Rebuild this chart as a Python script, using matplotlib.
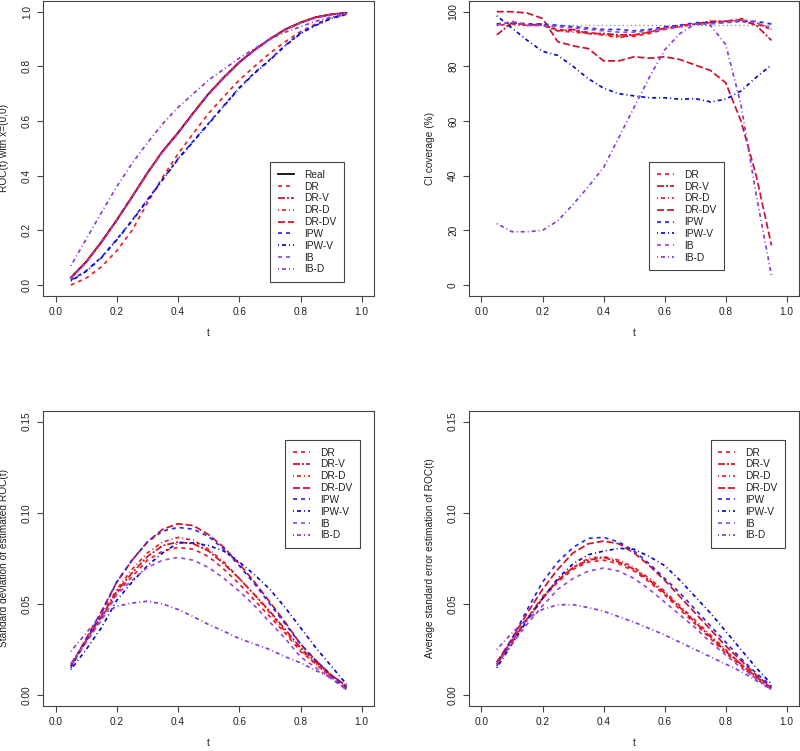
import matplotlib
matplotlib.use("Agg")
import matplotlib.pyplot as plt

plt.rcParams["font.family"] = ["Liberation Sans", "DejaVu Sans"]

# ── Data ─────────────────────────────────────────────────────────────────────
t = [0.05, 0.10, 0.15, 0.20, 0.25, 0.30, 0.35, 0.40, 0.45, 0.50,
     0.55, 0.60, 0.65, 0.70, 0.75, 0.80, 0.85, 0.90, 0.95]

# panel 1: ROC(t) with x=(0,0)
roc_real  = [0.027, 0.085, 0.158, 0.238, 0.323, 0.410, 0.490, 0.557, 0.630, 0.700,
             0.760, 0.815, 0.860, 0.900, 0.935, 0.960, 0.980, 0.990, 0.996]
roc_dr    = [0.000, 0.025, 0.067, 0.125, 0.200, 0.300, 0.395, 0.480, 0.555, 0.628,
             0.690, 0.750, 0.800, 0.848, 0.890, 0.927, 0.955, 0.978, 0.990]
roc_dr_v  = [0.025, 0.083, 0.157, 0.237, 0.322, 0.409, 0.489, 0.556, 0.629, 0.699,
             0.759, 0.814, 0.860, 0.900, 0.935, 0.960, 0.979, 0.990, 0.995]
roc_dr_d  = [0.028, 0.086, 0.159, 0.239, 0.324, 0.411, 0.491, 0.558, 0.631, 0.701,
             0.761, 0.816, 0.861, 0.901, 0.936, 0.961, 0.980, 0.991, 0.996]
roc_dr_dv = [0.026, 0.084, 0.158, 0.238, 0.323, 0.410, 0.490, 0.557, 0.630, 0.700,
             0.760, 0.815, 0.860, 0.900, 0.935, 0.960, 0.980, 0.990, 0.996]
roc_ipw   = [0.018, 0.052, 0.102, 0.167, 0.237, 0.312, 0.387, 0.462, 0.527, 0.592,
             0.657, 0.722, 0.777, 0.825, 0.877, 0.922, 0.952, 0.976, 0.990]
roc_ipw_v = [0.015, 0.050, 0.100, 0.165, 0.235, 0.310, 0.385, 0.460, 0.525, 0.590,
             0.655, 0.720, 0.775, 0.823, 0.875, 0.920, 0.950, 0.975, 0.990]
roc_ib    = [0.024, 0.082, 0.155, 0.235, 0.320, 0.407, 0.487, 0.554, 0.627, 0.697,
             0.757, 0.812, 0.858, 0.898, 0.933, 0.958, 0.977, 0.988, 0.994]
roc_ib_d  = [0.070, 0.168, 0.265, 0.360, 0.445, 0.520, 0.590, 0.650, 0.700, 0.750,
             0.790, 0.830, 0.865, 0.900, 0.925, 0.945, 0.965, 0.980, 0.990]

# panel 2: CI coverage (%)
cov_nominal = 95
cov_dr    = [95.5, 96.0, 95.5, 95.0, 93.5, 93.0, 92.5, 91.5, 91.0, 91.0,
             92.0, 93.5, 94.5, 95.5, 96.0, 96.5, 96.5, 95.5, 93.5]
cov_dr_v  = [91.5, 96.0, 95.0, 95.5, 93.0, 93.5, 92.0, 92.0, 91.5, 91.5,
             92.5, 94.0, 95.0, 95.5, 96.5, 96.5, 97.0, 95.0, 89.5]
cov_dr_d  = [95.0, 95.5, 95.0, 95.0, 93.0, 92.5, 92.0, 91.5, 90.5, 91.5,
             92.5, 94.0, 94.5, 95.5, 96.0, 96.5, 97.5, 96.0, 93.5]
cov_dr_dv = [100.0, 100.0, 99.5, 97.5, 89.0, 87.5, 86.5, 82.0, 82.0, 83.5,
             83.0, 83.5, 82.5, 80.5, 78.5, 74.0, 60.0, 40.0, 14.5]
cov_ipw   = [95.5, 96.0, 95.5, 95.5, 95.0, 94.5, 94.0, 93.5, 93.5, 93.0,
             93.5, 94.5, 95.0, 96.0, 96.0, 96.0, 96.5, 96.5, 95.5]
cov_ipw_v = [98.5, 94.0, 89.5, 85.5, 84.0, 80.0, 75.5, 72.0, 70.0, 69.2,
             68.5, 68.5, 68.0, 68.2, 67.0, 68.0, 71.0, 76.0, 80.5]
cov_ib    = [95.0, 96.5, 95.0, 95.0, 94.5, 94.0, 93.5, 93.0, 92.5, 92.5,
             93.0, 94.0, 94.5, 95.5, 95.5, 96.0, 97.0, 96.0, 94.0]
cov_ib_d  = [22.5, 19.5, 19.5, 20.0, 23.5, 29.5, 36.0, 43.0, 54.0, 65.0,
             76.0, 86.0, 92.0, 95.5, 95.0, 88.0, 66.0, 33.0, 3.5]

# panel 3: standard deviation of estimated ROC(t)
sd_dr     = [.016, .029, .042, .056, .065, .074, .079, .081, .080, .076,
             .069, .061, .052, .043, .034, .024, .017, .010, .004]
sd_dr_v   = [.017, .030, .043, .057, .067, .076, .082, .084, .083, .079,
             .072, .064, .055, .046, .036, .026, .018, .011, .005]
sd_dr_d   = [.016, .030, .044, .058, .069, .078, .084, .0865, .085, .080,
             .073, .064, .055, .045, .035, .025, .017, .010, .004]
sd_dr_dv  = [.016, .031, .046, .062, .074, .084, .091, .094, .093, .088,
             .081, .072, .062, .051, .040, .028, .019, .011, .005]
sd_ipw    = [.015, .030, .045, .062, .074, .084, .090, .092, .091, .087,
             .080, .071, .061, .050, .039, .028, .019, .011, .004]
sd_ipw_v  = [.014, .025, .037, .052, .062, .071, .078, .0835, .0835, .082,
             .079, .073, .066, .058, .048, .037, .026, .016, .006]
sd_ib     = [.017, .029, .041, .055, .063, .070, .074, .0755, .074, .070,
             .064, .057, .049, .040, .031, .021, .015, .009, .003]
sd_ib_d   = [.024, .034, .044, .0487, .0505, .0515, .050, .047, .043, .0387,
             .035, .031, .028, .025, .021, .0177, .0135, .0095, .003]

# panel 4: average standard error estimation of ROC(t)
se_dr     = [.018, .030, .042, .053, .062, .069, .073, .074, .072, .068,
             .062, .055, .047, .039, .031, .023, .016, .009, .003]
se_dr_v   = [.017, .029, .042, .053, .063, .070, .074, .0755, .073, .069,
             .063, .056, .048, .040, .032, .024, .017, .010, .004]
se_dr_d   = [.017, .030, .042, .054, .063, .070, .075, .076, .074, .070,
             .064, .057, .049, .041, .033, .025, .017, .010, .004]
se_dr_dv  = [.018, .031, .045, .058, .069, .078, .083, .0845, .083, .078,
             .071, .063, .054, .045, .036, .027, .019, .011, .004]
se_ipw    = [.016, .031, .047, .062, .073, .081, .086, .0865, .084, .079,
             .072, .064, .056, .047, .038, .029, .020, .012, .005]
se_ipw_v  = [.015, .028, .041, .053, .064, .072, .077, .079, .0805, .080,
             .076, .071, .063, .054, .045, .035, .025, .015, .006]
se_ib     = [.017, .028, .039, .049, .058, .064, .068, .0697, .068, .064,
             .058, .051, .044, .037, .029, .022, .015, .009, .003]
se_ib_d   = [.025, .034, .042, .047, .0495, .0496, .048, .046, .043, .040,
             .0365, .033, .029, .025, .021, .017, .013, .008, .003]

# ── Styles (R-like lty patterns, given in pixels) ───────────────────────────
LW = 1.25
RED, RED2, BLUE, BLUE2, PURP, PURP2 = ("#e8202a", "#d0102a", "#2a2ae8",
                                      "#0a0acc", "#9a48e0", "#8a3ad8")
STY = {
    "Real":  ("black", None),
    "DR":    (RED,   (4, 4)),
    "DR-V":  (RED2,  (7, 2, 2, 2)),
    "DR-D":  (RED,   (1, 3, 4, 3)),
    "DR-DV": (RED2,  (7, 3)),
    "IPW":   (BLUE,  (4, 4)),
    "IPW-V": (BLUE2, (1, 3, 4, 3)),
    "IB":    (PURP,  (4, 4)),
    "IB-D":  (PURP2, (1, 3, 4, 3)),
}
FS = 7.3
FRAME = "#444444"
TXT = "#222222"


def ls_of(pat):
    if pat is None:
        return "-"
    unit = LW * 100 / 72.0
    return (0, tuple(p / unit for p in pat))


def draw(ax, series):
    for name, vals in series:
        col, pat = STY[name]
        ax.plot(t, vals, color=col, lw=LW, ls=ls_of(pat), label=name)


def setup(ax, ylim, yticks, ylabels, ylabel, leg_xy):
    ax.set_xlim(-0.04, 1.04)
    ax.set_ylim(*ylim)
    ax.set_xticks([0.0, 0.2, 0.4, 0.6, 0.8, 1.0])
    ax.set_xticklabels(["0.0", "0.2", "0.4", "0.6", "0.8", "1.0"])
    ax.set_yticks(yticks)
    ax.set_yticklabels(ylabels, rotation=90, va="center", ha="right",
                       rotation_mode="default")
    ax.tick_params(direction="out", length=4.1, width=0.8, color=FRAME,
                   labelsize=FS, labelcolor=TXT, pad=4)
    for sp in ax.spines.values():
        sp.set_color(FRAME)
        sp.set_linewidth(0.8)
    ax.set_xlabel("t", fontsize=FS, color=TXT)
    ax.set_ylabel(ylabel, fontsize=FS, color=TXT)
    ax.yaxis.set_label_coords(-0.105, 0.5)
    ax.xaxis.set_label_coords(0.5, -0.11)
    leg = ax.legend(loc="upper left", bbox_to_anchor=leg_xy, borderaxespad=0,
                    fontsize=FS, frameon=True, fancybox=False, framealpha=1,
                    edgecolor=FRAME, handlelength=1.65, handletextpad=1.0,
                    labelspacing=0.18, borderpad=0.75)
    leg.get_frame().set_linewidth(0.8)
    for txt in leg.get_texts():
        txt.set_color(TXT)


fig = plt.figure(figsize=(8.0, 7.51), dpi=100)
fig.patch.set_facecolor("white")

ax1 = fig.add_axes([0.0541, 0.6059, 0.4134, 0.3931])
ax2 = fig.add_axes([0.5866, 0.6059, 0.4121, 0.3931])
ax3 = fig.add_axes([0.0541, 0.0599, 0.4134, 0.3932])
ax4 = fig.add_axes([0.5866, 0.0599, 0.4121, 0.3932])

# ── 1  ROC curves ────────────────────────────────────────────────────────────
draw(ax1, [("Real", roc_real), ("DR", roc_dr), ("DR-V", roc_dr_v),
           ("DR-D", roc_dr_d), ("DR-DV", roc_dr_dv), ("IPW", roc_ipw),
           ("IPW-V", roc_ipw_v), ("IB", roc_ib), ("IB-D", roc_ib_d)])
setup(ax1, (-0.04, 1.04), [0, 0.2, 0.4, 0.6, 0.8, 1.0],
      ["0.0", "0.2", "0.4", "0.6", "0.8", "1.0"],
      "ROC(t) with x=(0,0)", (0.6855, 0.453))

# ── 2  CI coverage ───────────────────────────────────────────────────────────
ax2.plot(t, [cov_nominal] * len(t), color="#999999", lw=1.0,
         ls=(0, (1.0, 2.0)))
draw(ax2, [("DR", cov_dr), ("DR-V", cov_dr_v), ("DR-D", cov_dr_d),
           ("DR-DV", cov_dr_dv), ("IPW", cov_ipw), ("IPW-V", cov_ipw_v),
           ("IB", cov_ib), ("IB-D", cov_ib_d)])
setup(ax2, (-4, 104), [0, 20, 40, 60, 80, 100],
      ["0", "20", "40", "60", "80", "100"],
      "CI coverage (%)", (0.546, 0.453))

# ── 3  SD of estimates ───────────────────────────────────────────────────────
draw(ax3, [("DR", sd_dr), ("DR-V", sd_dr_v), ("DR-D", sd_dr_d),
           ("DR-DV", sd_dr_dv), ("IPW", sd_ipw), ("IPW-V", sd_ipw_v),
           ("IB", sd_ib), ("IB-D", sd_ib_d)])
setup(ax3, (-0.006, 0.156), [0, 0.05, 0.10, 0.15],
      ["0.00", "0.05", "0.10", "0.15"],
      "Standard deviation of estimated ROC(t)", (0.732, 0.9008))

# ── 4  Average SE ────────────────────────────────────────────────────────────
draw(ax4, [("DR", se_dr), ("DR-V", se_dr_v), ("DR-D", se_dr_d),
           ("DR-DV", se_dr_dv), ("IPW", se_ipw), ("IPW-V", se_ipw_v),
           ("IB", se_ib), ("IB-D", se_ib_d)])
setup(ax4, (-0.006, 0.156), [0, 0.05, 0.10, 0.15],
      ["0.00", "0.05", "0.10", "0.15"],
      "Average standard error estimation of ROC(t)", (0.732, 0.9008))

fig.savefig("out.png", dpi=100, facecolor="white")
